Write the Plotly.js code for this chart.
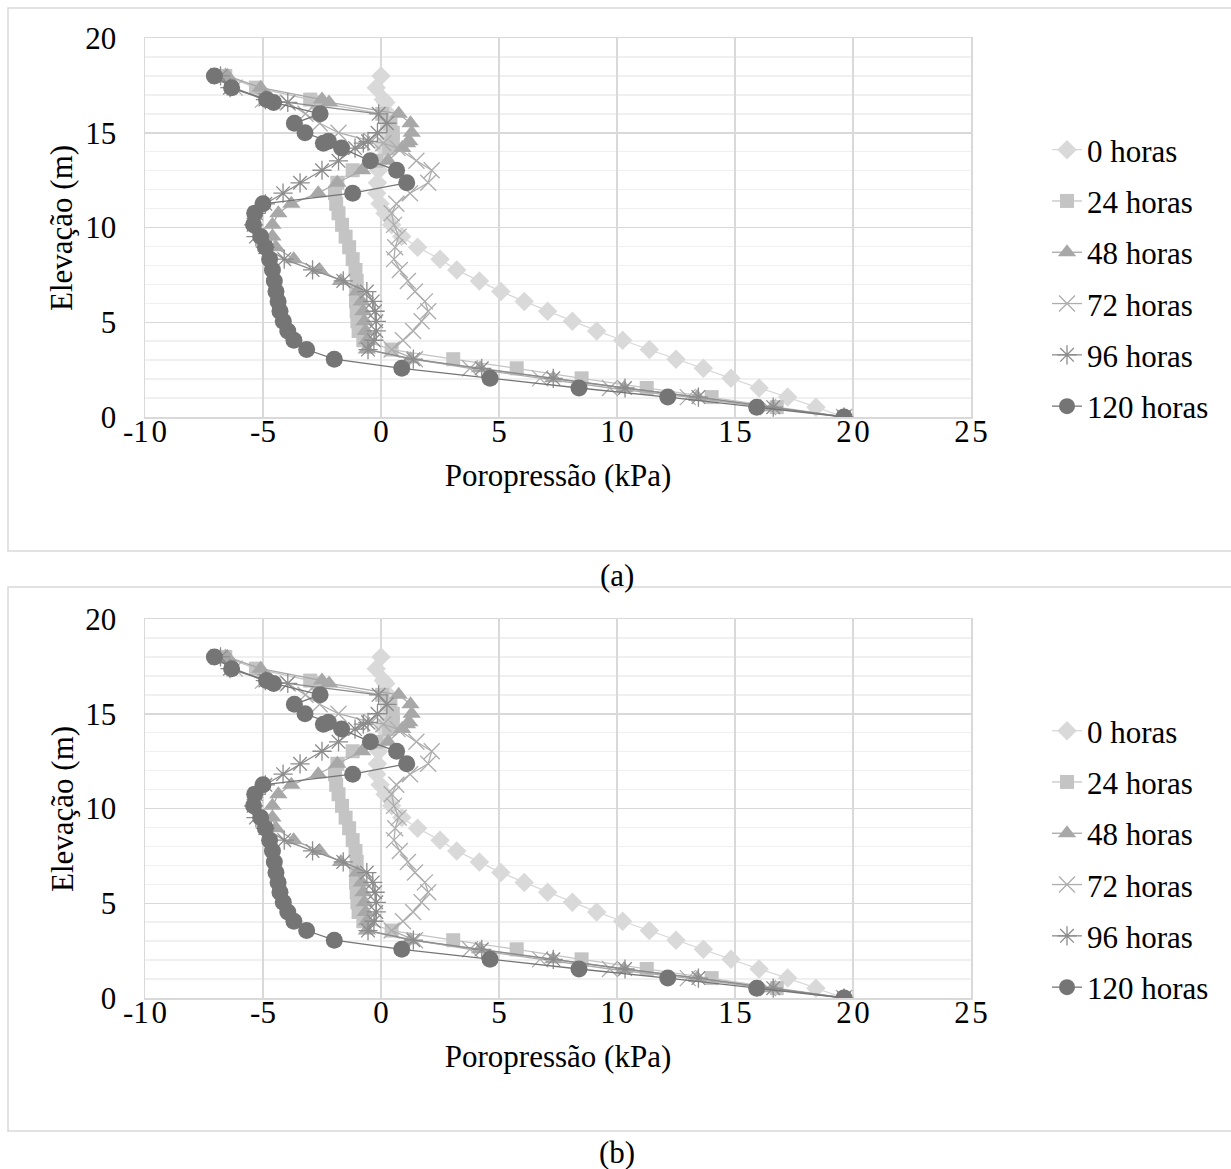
<!DOCTYPE html>
<html>
<head>
<meta charset="utf-8">
<script src="https://cdn.plot.ly/plotly-3.0.1.min.js"></script>
<style>html,body{margin:0;padding:0;background:#fff;}#chart{width:1231px;height:1169px;}</style>
</head>
<body>
<div id="chart"></div>
<script>
// Elevation nodes (m), shared by all series
const elevacao = [0, 0.52, 1.05, 1.53, 2.04, 2.57, 3.05, 3.56, 4.05, 4.54, 5.05, 5.58, 6.1, 6.62, 7.18, 7.76, 8.33, 8.96, 9.52, 10.14, 10.75, 11.25, 11.81, 12.36, 13.02, 13.52, 14.19, 14.45, 14.55, 15.0, 15.5, 16.0, 16.6, 16.75, 17.38, 18.0];

// Pore pressure (kPa) per series
const h0   = [19.62, 18.43, 17.23, 16.02, 14.83, 13.66, 12.5, 11.37, 10.24, 9.14, 8.11, 7.06, 6.07, 5.08, 4.17, 3.21, 2.5, 1.55, 0.88, 0.45, 0.17, -0.04, -0.18, -0.15, -0.1, 0.0, 0.1, 0.15, 0.2, 0.25, 0.3, 0.3, 0.2, 0.1, -0.2, 0.0];
const h24  = [19.62, 16.77, 14.01, 11.26, 8.5, 5.75, 3.06, 0.45, -0.75, -0.95, -1.0, -1.03, -1.06, -1.05, -1.03, -1.08, -1.2, -1.35, -1.5, -1.65, -1.8, -1.9, -1.95, -1.85, -1.2, -0.2, 0.35, 0.45, 0.5, 0.5, 0.4, 0.05, -2.7, -3.0, -5.3, -6.6];
const h48  = [19.62, 16.6, 13.4, 10.3, 7.3, 4.2, 1.25, -0.6, -0.6, -0.65, -0.7, -0.75, -0.82, -1.0, -1.7, -2.6, -3.7, -4.45, -4.6, -4.6, -4.35, -3.8, -2.66, -1.85, -0.8, 0.3, 0.9, 1.1, 1.2, 1.3, 1.25, 0.75, -2.2, -2.5, -5.1, -6.5];
const h72  = [19.62, 16.4, 13.0, 9.7, 6.74, 3.77, 1.44, 0.45, 0.93, 1.36, 1.72, 2.0, 1.86, 1.44, 1.14, 0.8, 0.55, 0.6, 0.75, 0.55, 0.45, 0.65, 1.23, 2.0, 2.15, 1.5, 0.7, 0.1, -0.4, -1.8, -2.6, -3.2, -3.95, -5.0, -6.2, -6.9];
const h96  = [19.62, 16.62, 13.45, 10.34, 7.3, 4.27, 1.37, -0.55, -0.3, -0.2, -0.2, -0.25, -0.35, -0.6, -1.6, -2.9, -4.1, -4.9, -5.3, -5.4, -5.3, -4.9, -4.15, -3.43, -2.5, -1.8, -1.1, -0.75, -0.55, -0.15, 0.25, -0.1, -3.95, -4.9, -6.4, -6.8];
const h120 = [19.62, 15.92, 12.15, 8.39, 4.62, 0.88, -1.98, -3.15, -3.69, -3.95, -4.14, -4.28, -4.36, -4.45, -4.52, -4.6, -4.72, -4.9, -5.1, -5.4, -5.35, -5.0, -1.2, 1.09, 0.66, -0.45, -1.67, -2.44, -2.23, -3.22, -3.67, -2.58, -4.55, -4.85, -6.33, -7.06];

const seriesNames = ['0 horas', '24 horas', '48 horas', '72 horas', '96 horas', '120 horas'];
const seriesData = [h0, h24, h48, h72, h96, h120];

const xTickVals = [-10, -5, 0, 5, 10, 15, 20, 25];
const xTickText = ['-1\u200A0', '-5', '0', '5', '1\u200A0', '1\u200A5', '2\u200A0', '2\u200A5'];
const yTickVals = [0, 5, 10, 15, 20];
const xTitle = 'Poropressão (kPa)';
const yTitle = 'Elevação (m)';
const panelLabels = ['(a)', '(b)'];

const styles = [
  {symbol: 'diamond', color: '#d9d9d9', size: 15, open: false},
  {symbol: 'square', color: '#c4c4c4', size: 14, open: false},
  {symbol: 'triangle-up', color: '#a8a8a8', size: 16, open: false},
  {symbol: 'x-thin-open', color: '#adadad', size: 16, open: true},
  {symbol: 'asterisk-open', color: '#8c8c8c', size: 16, open: true},
  {symbol: 'circle', color: '#757575', size: 17, open: false}
];

const FONT = '"Liberation Serif", "Times New Roman", serif';
const FS = 31;
const W = 1231, H = 1169;
const traces = [];
[0, 1].forEach(function (p) {
  seriesData.forEach(function (xs, i) {
    const st = styles[i];
    const marker = {symbol: st.symbol, size: st.size, color: st.color};
    if (st.open) marker.line = {color: st.color, width: 1.3};
    else marker.line = {width: 0};
    traces.push({
      type: 'scatter', mode: 'lines+markers',
      x: xs, y: elevacao, name: seriesNames[i],
      xaxis: p === 0 ? 'x' : 'x2', yaxis: p === 0 ? 'y' : 'y2',
      legend: p === 0 ? 'legend' : 'legend2',
      legendgroup: 'g' + p + '_' + i,
      line: {color: st.color, width: 1.3},
      marker: marker,
      hoverinfo: 'x+y'
    });
  });
});

const xDom = [145 / W, 971 / W];
function yDom(top, bottom) { return [1 - bottom / H, 1 - top / H]; }

function xaxisDef(anchor) {
  return {
    domain: xDom, anchor: anchor, range: [-10, 25],
    tickvals: xTickVals, ticktext: xTickText,
    showgrid: true, gridcolor: '#d9d9d9', gridwidth: 1.5,
    zeroline: false, showline: true, mirror: true, linecolor: '#d9d9d9', linewidth: 1.5,
    ticks: '', ticklabelstandoff: -14, tickfont: {family: FONT, size: FS, color: '#000'},
    title: {text: xTitle, font: {family: FONT, size: FS, color: '#000'}, standoff: 16},
    fixedrange: true
  };
}
function yaxisDef(anchor, dom) {
  return {
    domain: dom, anchor: anchor, range: [0, 20],
    tickvals: yTickVals,
    showgrid: true, gridcolor: '#d9d9d9', gridwidth: 1.5,
    minor: {dtick: 1, showgrid: true, gridcolor: '#f0f0f0', gridwidth: 1.5},
    zeroline: false, showline: true, mirror: true, linecolor: '#d9d9d9', linewidth: 1.5,
    ticks: '', ticklabelstandoff: 21,
    tickfont: {family: FONT, size: FS, color: '#000'},
    fixedrange: true
  };
}

function legendDef(topPx) {
  return {
    x: 1047 / W, xanchor: 'left', y: 1 - topPx / H, yanchor: 'top',
    font: {family: FONT, size: FS, color: '#000'},
    bgcolor: 'rgba(0,0,0,0)', borderwidth: 0,
    traceorder: 'grouped', tracegroupgap: 8, itemclick: false, itemdoubleclick: false
  };
}

function yTitleAnn(centerPx) {
  return {xref: 'paper', yref: 'paper', x: 62 / W, y: 1 - centerPx / H, text: yTitle, textangle: -90,
    showarrow: false, font: {family: FONT, size: FS, color: '#000'}, xanchor: 'center', yanchor: 'middle'};
}

const layout = {
  width: W, height: H,
  margin: {l: 0, r: 0, t: 0, b: 0},
  paper_bgcolor: '#fff', plot_bgcolor: '#fff',
  showlegend: true,
  font: {family: FONT, size: FS, color: '#000'},
  xaxis: xaxisDef('y'),
  yaxis: yaxisDef('x', yDom(38, 417)),
  xaxis2: xaxisDef('y2'),
  yaxis2: yaxisDef('x2', yDom(619, 998)),
  legend: legendDef(123),
  legend2: legendDef(704),
  shapes: [
    {type: 'rect', xref: 'paper', yref: 'paper', x0: 8 / W, x1: 1240 / W, y0: 1 - 551 / H, y1: 1 - 8 / H, line: {color: '#d9d9d9', width: 1.5}, layer: 'below'},
    {type: 'rect', xref: 'paper', yref: 'paper', x0: 8 / W, x1: 1240 / W, y0: 1 - 1131 / H, y1: 1 - 587 / H, line: {color: '#d9d9d9', width: 1.5}, layer: 'below'}
  ],
  annotations: [
    yTitleAnn(228), yTitleAnn(809),
    {xref: 'paper', yref: 'paper', x: 617 / W, y: 1 - 575 / H, text: panelLabels[0], showarrow: false, font: {family: FONT, size: FS, color: '#000'}, xanchor: 'center', yanchor: 'middle'},
    {xref: 'paper', yref: 'paper', x: 617 / W, y: 1 - 1152 / H, text: panelLabels[1], showarrow: false, font: {family: FONT, size: FS, color: '#000'}, xanchor: 'center', yanchor: 'middle'}
  ]
};

Plotly.newPlot('chart', traces, layout, {staticPlot: true, displayModeBar: false});
</script>
</body>
</html>
